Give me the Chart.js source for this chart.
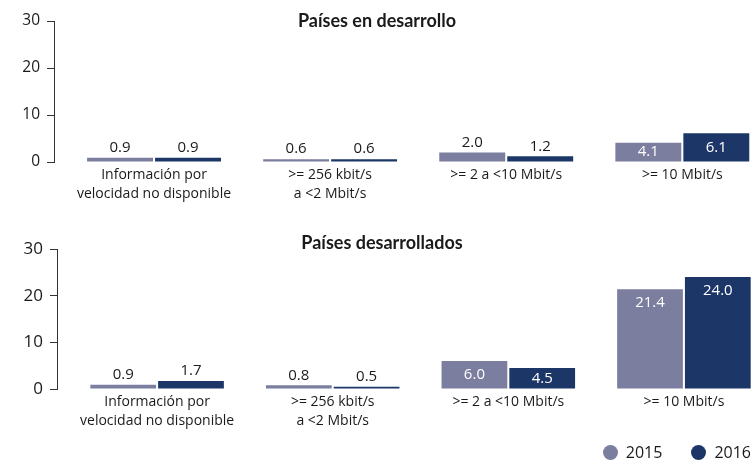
<!DOCTYPE html>
<html lang="es">
<head>
<meta charset="utf-8">
<script src="https://cdn.jsdelivr.net/npm/chart.js@4.4.1/dist/chart.umd.min.js"></script>
<style>
  html, body { margin: 0; padding: 0; background: #fff; }
  body { position: relative; width: 751px; height: 460px; overflow: hidden; font-family: "Open Sans", sans-serif; }
  .panel { position: relative; width: 751px; }
  #p1 { height: 228px; }
  #p2 { height: 232px; }
  #leyenda { position: absolute; right: 0; top: 442px; display: flex; gap: 29px; font-size: 16px; line-height: 20px; color: #1a1a1a; }
  #leyenda span { display: flex; align-items: center; }
  #leyenda i { display: inline-block; width: 15px; height: 15px; border-radius: 50%; margin-right: 8px; }
</style>
</head>
<body>
<div class="panel" id="p1"><canvas id="c1"></canvas></div>
<div class="panel" id="p2"><canvas id="c2"></canvas></div>
<div id="leyenda"></div>
<script>
/* Velocidad de banda ancha — 2015 vs 2016 */

const categorias = [
  ["Información por", "velocidad no disponible"],
  [">= 256 kbit/s", "a <2 Mbit/s"],
  ">= 2 a <10 Mbit/s",
  ">= 10 Mbit/s",
];
const series = ["2015", "2016"];
const enDesarrollo2015 = [0.9, 0.6, 2.0, 4.1];
const enDesarrollo2016 = [0.9, 0.6, 1.2, 6.1];
const desarrollados2015 = [0.9, 0.8, 6.0, 21.4];
const desarrollados2016 = [1.7, 0.5, 4.5, 24.0];
const ticksY = [0, 10, 20, 30];

const COL = ["#7b7e9e", "#1d3668"];
const FONT = "'Open Sans', sans-serif";
const FONT_TIT = "Lato, 'Open Sans', sans-serif";
const TXT = "#1a1a1a";

// valores encima de la barra (o dentro, en blanco, si la barra es alta)
const etiquetas = {
  id: "etiquetas",
  afterDatasetsDraw(chart) {
    const ctx = chart.ctx;
    ctx.save();
    ctx.font = `15px ${FONT}`;
    ctx.textAlign = "center";
    ctx.textBaseline = "middle";
    chart.data.datasets.forEach((ds, i) => {
      chart.getDatasetMeta(i).data.forEach((bar, j) => {
        const v = ds.data[j].y;
        const dentro = v > 3;
        ctx.fillStyle = dentro ? "#fff" : TXT;
        const y = dentro ? Math.min(bar.y + 14, (bar.y + bar.base) / 2) : bar.y - 10;
        ctx.fillText(v.toFixed(1), bar.x, y);
      });
    });
    ctx.restore();
  },
};

const tituloPanel = {
  id: "tituloPanel",
  afterDraw(chart, args, opts) {
    const ctx = chart.ctx;
    ctx.save();
    ctx.font = `bold 18px ${FONT_TIT}`;
    ctx.fillStyle = TXT;
    ctx.textAlign = "center";
    ctx.textBaseline = "middle";
    ctx.fillText(opts.text, opts.x, opts.y);
    ctx.restore();
  },
};

function panel(id, titulo, v2015, v2016, o) {
  return new Chart(document.getElementById(id), {
    type: "bar",
    data: {
      datasets: [
        { label: series[0], data: v2015.map((y, x) => ({ x, y })), backgroundColor: COL[0] },
        { label: series[1], data: v2016.map((y, x) => ({ x, y })), backgroundColor: COL[1] },
      ],
    },
    options: {
      responsive: true,
      maintainAspectRatio: false,
      animation: false,
      categoryPercentage: 0.772,
      barPercentage: 0.97,
      layout: { padding: { top: 21, left: 0, right: 0, bottom: 0 } },
      scales: {
        x: {
          type: "linear",
          min: o.xMin,
          max: o.xMax,
          offset: false,
          afterBuildTicks: (s) => { s.ticks = categorias.map((_, i) => ({ value: i })); },
          ticks: {
            callback: (v) => categorias[v],
            color: TXT,
            font: { family: FONT, size: 14, lineHeight: 1.35 },
            padding: 4,
            maxRotation: 0,
            autoSkip: false,
          },
          grid: { display: false, drawTicks: false },
          border: { display: false },
          afterFit: (s) => { s.height = o.xHeight; },
        },
        y: {
          min: 0,
          max: 30,
          afterBuildTicks: (s) => { s.ticks = ticksY.map((value) => ({ value })); },
          ticks: { color: TXT, font: { family: FONT, size: o.tickSize }, padding: 7 },
          grid: { drawOnChartArea: false, drawTicks: true, tickLength: 7, color: "#333" },
          border: { display: true, color: "#333" },
          afterFit: (s) => { s.width = o.axisX; },
        },
      },
      plugins: {
        legend: { display: false },
        tooltip: { enabled: false },
        tituloPanel: { text: titulo, x: o.titleX, y: o.titleY },
      },
    },
    plugins: [etiquetas, tituloPanel],
  });
}

panel("c1", "Países en desarrollo", enDesarrollo2015, enDesarrollo2016,
  { axisX: 54, xMin: -0.568, xMax: 3.390, xHeight: 66, tickSize: 15.5, titleX: 377, titleY: 21 });
panel("c2", "Países desarrollados", desarrollados2015, desarrollados2016,
  { axisX: 57, xMin: -0.57, xMax: 3.382, xHeight: 71, tickSize: 17, titleX: 382, titleY: 15 });

document.getElementById("leyenda").innerHTML = series
  .map((s, i) => `<span><i style="background:${COL[i]}"></i>${s}</span>`)
  .join("");
</script>
</body>
</html>
